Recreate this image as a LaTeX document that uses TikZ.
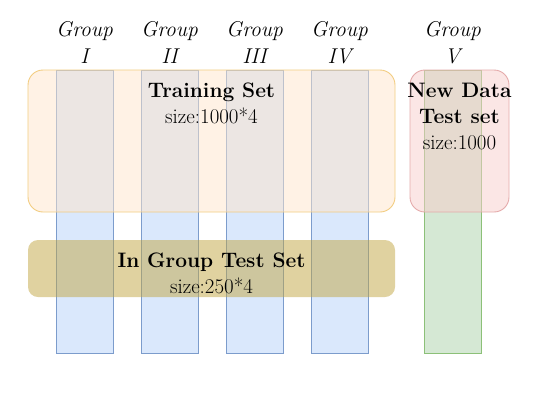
\documentclass[tikz,border=0pt]{standalone}
\usepackage{fontspec}
\definecolor{colfill}{HTML}{DAE8FC}
\definecolor{coldraw}{HTML}{7C9CCC}
\definecolor{grnfill}{HTML}{D5E8D4}
\definecolor{grndraw}{HTML}{8CC078}
\definecolor{trfill}{HTML}{FFE6CC}
\definecolor{trdraw}{HTML}{F2CC80}
\definecolor{igfill}{HTML}{C1A541}
\definecolor{nwfill}{HTML}{F8CECC}
\definecolor{nwdraw}{HTML}{E4AAAA}
\tikzset{
  colbox/.style={draw=coldraw, fill=colfill, line width=0.9bp},
  grnbox/.style={draw=grndraw, fill=grnfill, line width=0.9bp},
  trbox/.style={draw=trdraw, fill=trfill, fill opacity=0.5, line width=0.9bp, rounded corners=15bp},
  igbox/.style={fill=igfill, fill opacity=0.5, rounded corners=10bp},
  nwbox/.style={draw=nwdraw, fill=nwfill, fill opacity=0.5, line width=0.9bp, rounded corners=15bp},
  txt/.style={anchor=base, inner sep=0pt, font=\fontsize{21}{25}\selectfont\rmfamily},
  btxt/.style={txt, font=\fontsize{21}{25}\selectfont\rmfamily\bfseries},
  itxt/.style={txt, font=\fontsize{21.5}{25}\selectfont\rmfamily\itshape},
}
\begin{document}
\begin{tikzpicture}[x=1bp, y=-1bp]
\useasboundingbox (0,0) rectangle (538,397);
% columns
\path[colbox] (56,70) rectangle (113,353) coordinate (c1);
\path[colbox] (141,70) rectangle (198,353) coordinate (c2);
\path[colbox] (226,70) rectangle (283,353) coordinate (c3);
\path[colbox] (311,70) rectangle (368,353) coordinate (c4);
\path[grnbox] (424,70) rectangle (481,353) coordinate (c5);
% boxes
\path[trbox] (28,70) rectangle (395,212) coordinate (tr);
\path[igbox] (28,240) rectangle (395,297) coordinate (ig);
\path[nwbox] (410,70) rectangle (509,212) coordinate (nw);
% group labels
\node[itxt] (g1a) at (84.5,36) {Group};
\node[itxt] (g1b) at (84.5,63) {I};
\node[itxt] (g2a) at (169.5,36) {Group};
\node[itxt] (g2b) at (169.5,63) {II};
\node[itxt] (g3a) at (254.5,36) {Group};
\node[itxt] (g3b) at (254.5,63) {III};
\node[itxt] (g4a) at (339.5,36) {Group};
\node[itxt] (g4b) at (339.5,63) {IV};
\node[itxt] (g5a) at (452.5,36) {Group};
\node[itxt] (g5b) at (452.5,63) {V};
% texts
\node[btxt] (tra) at (211.5,97) {Training Set};
\node[txt] (trb) at (211.5,123) {size:1000*4};
\node[btxt] (iga) at (211.5,267) {In Group Test Set};
\node[txt] (igb) at (211.5,293) {size:250*4};
\node[btxt] (nwa) at (459.5,97) {New Data};
\node[btxt] (nwb) at (459.5,123) {Test set};
\node[txt] (nwc) at (459.5,149) {size:1000};
\end{tikzpicture}
\end{document}
